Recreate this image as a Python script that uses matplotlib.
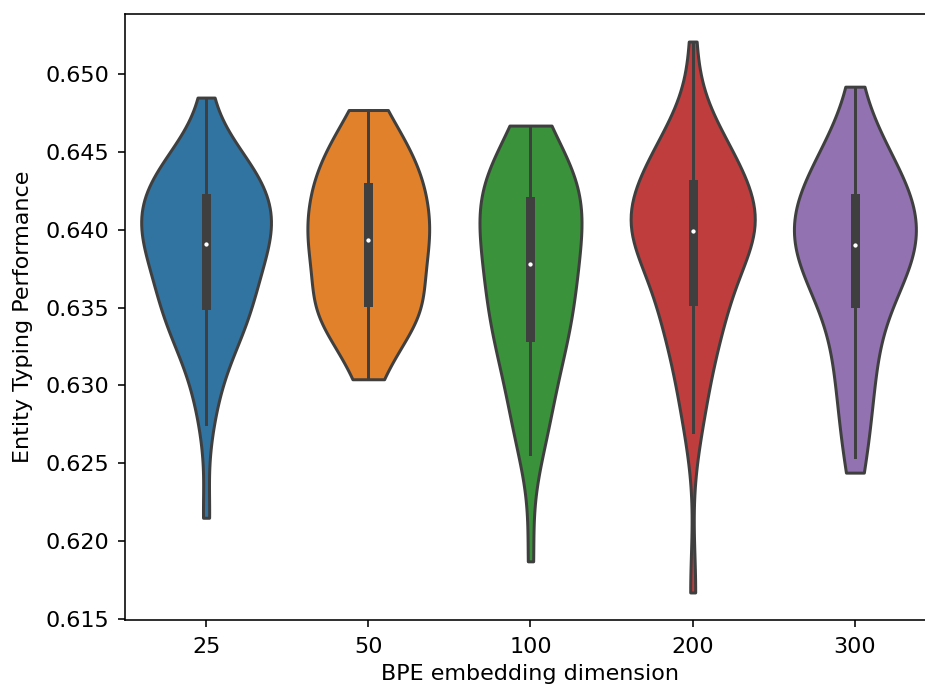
import numpy as np
import pandas as pd
import matplotlib
matplotlib.use("Agg")
import matplotlib.pyplot as plt
import seaborn as sns

# entity typing scores per BPE embedding dimension
dims = ["25", "50", "100", "200", "300"]

perf_25 = [0.6215, 0.6275, 0.6293, 0.6306, 0.6316, 0.6323, 0.6329, 0.6334, 0.6338, 0.6342,
           0.6345, 0.6348, 0.6351, 0.6354, 0.6357, 0.6361, 0.6365, 0.6369, 0.6373, 0.6377,
           0.6380, 0.6383, 0.6386, 0.6388, 0.6390, 0.6392, 0.6395, 0.6398, 0.6401, 0.6403,
           0.6405, 0.6407, 0.6409, 0.6411, 0.6413, 0.6415, 0.6418, 0.6421, 0.6424, 0.6427,
           0.6430, 0.6432, 0.6435, 0.6437, 0.6440, 0.6443, 0.6446, 0.6450, 0.6454, 0.6485]

perf_50 = [0.6304, 0.6312, 0.6320, 0.6327, 0.6333, 0.6337, 0.6341, 0.6344, 0.6346, 0.6348,
           0.6350, 0.6352, 0.6353, 0.6356, 0.6360, 0.6364, 0.6368, 0.6372, 0.6376, 0.6379,
           0.6382, 0.6385, 0.6388, 0.6391, 0.6393, 0.6394, 0.6396, 0.6399, 0.6402, 0.6405,
           0.6408, 0.6411, 0.6414, 0.6417, 0.6420, 0.6423, 0.6426, 0.6428, 0.6431, 0.6434,
           0.6437, 0.6440, 0.6443, 0.6447, 0.6451, 0.6455, 0.6460, 0.6465, 0.6470, 0.6477]

perf_100 = [0.6187, 0.6256, 0.6264, 0.6272, 0.6280, 0.6288, 0.6296, 0.6304, 0.6311, 0.6318,
            0.6323, 0.6327, 0.6330, 0.6334, 0.6338, 0.6342, 0.6346, 0.6350, 0.6354, 0.6358,
            0.6362, 0.6366, 0.6370, 0.6374, 0.6377, 0.6379, 0.6383, 0.6387, 0.6391, 0.6395,
            0.6399, 0.6402, 0.6405, 0.6408, 0.6411, 0.6414, 0.6416, 0.6419, 0.6422, 0.6425,
            0.6428, 0.6431, 0.6434, 0.6437, 0.6440, 0.6443, 0.6447, 0.6452, 0.6458, 0.6467]

perf_200 = [0.6167, 0.6270, 0.6283, 0.6295, 0.6306, 0.6316, 0.6325, 0.6332, 0.6338, 0.6343,
            0.6347, 0.6351, 0.6353, 0.6358, 0.6364, 0.6370, 0.6376, 0.6381, 0.6385, 0.6388,
            0.6391, 0.6393, 0.6395, 0.6397, 0.6398, 0.6400, 0.6403, 0.6405, 0.6407, 0.6409,
            0.6410, 0.6411, 0.6412, 0.6413, 0.6414, 0.6415, 0.6417, 0.6434, 0.6435, 0.6437,
            0.6439, 0.6441, 0.6443, 0.6446, 0.6449, 0.6453, 0.6458, 0.6464, 0.6472, 0.6521]

perf_300 = [0.6244, 0.6254, 0.6268, 0.6280, 0.6290, 0.6299, 0.6307, 0.6315, 0.6323, 0.6331,
            0.6338, 0.6346, 0.6352, 0.6356, 0.6360, 0.6364, 0.6368, 0.6371, 0.6374, 0.6377,
            0.6380, 0.6383, 0.6385, 0.6387, 0.6389, 0.6391, 0.6393, 0.6396, 0.6399, 0.6402,
            0.6405, 0.6408, 0.6410, 0.6412, 0.6414, 0.6416, 0.6418, 0.6421, 0.6424, 0.6427,
            0.6430, 0.6434, 0.6438, 0.6442, 0.6446, 0.6450, 0.6455, 0.6461, 0.6469, 0.6492]

groups = [perf_25, perf_50, perf_100, perf_200, perf_300]

frame = pd.DataFrame({
    "dim": [d for d, g in zip(dims, groups) for _ in g],
    "perf": [v for g in groups for v in g],
})

plt.rcParams["font.size"] = 16
plt.rcParams["axes.linewidth"] = 1.15
plt.rcParams["xtick.major.size"] = 5
plt.rcParams["ytick.major.size"] = 5
plt.rcParams["xtick.major.width"] = 1.15
plt.rcParams["ytick.major.width"] = 1.15
plt.rcParams["xtick.major.pad"] = 7.5
plt.rcParams["ytick.major.pad"] = 6.5

edge = "#3f3f3f"
lw = 2.16

fig = plt.figure(figsize=(9.25, 6.86), dpi=100)
ax = fig.add_axes([0.1351, 0.0962, 0.8768, 0.8834])

sns.violinplot(data=frame, x="dim", y="perf", hue="dim", order=dims, hue_order=dims,
               palette=sns.color_palette("tab10")[:5], cut=0, inner=None,
               common_norm=True, linewidth=lw, linecolor=edge, legend=False, ax=ax)

# inner box like old seaborn: whisker line, thick IQR bar, white median dot
for i, g in enumerate(groups):
    vals = np.asarray(g)
    q25, q50, q75 = np.percentile(vals, [25, 50, 75])
    lim = 1.5 * (q75 - q25)
    lo = vals[vals >= q25 - lim].min()
    hi = vals[vals <= q75 + lim].max()
    ax.plot([i, i], [lo, hi], color=edge, lw=lw)
    ax.plot([i, i], [q25, q75], color=edge, lw=lw * 3)
    ax.scatter(i, q50, s=(lw * 2) ** 2, color="white", edgecolor=edge, linewidths=1.2, zorder=3)

ax.set_xlim(-0.5, len(dims) - 0.5)
ax.set_xlabel("BPE embedding dimension", labelpad=4.5)
ax.set_ylabel("Entity Typing Performance", labelpad=9)

fig.savefig("out.png", dpi=100)
